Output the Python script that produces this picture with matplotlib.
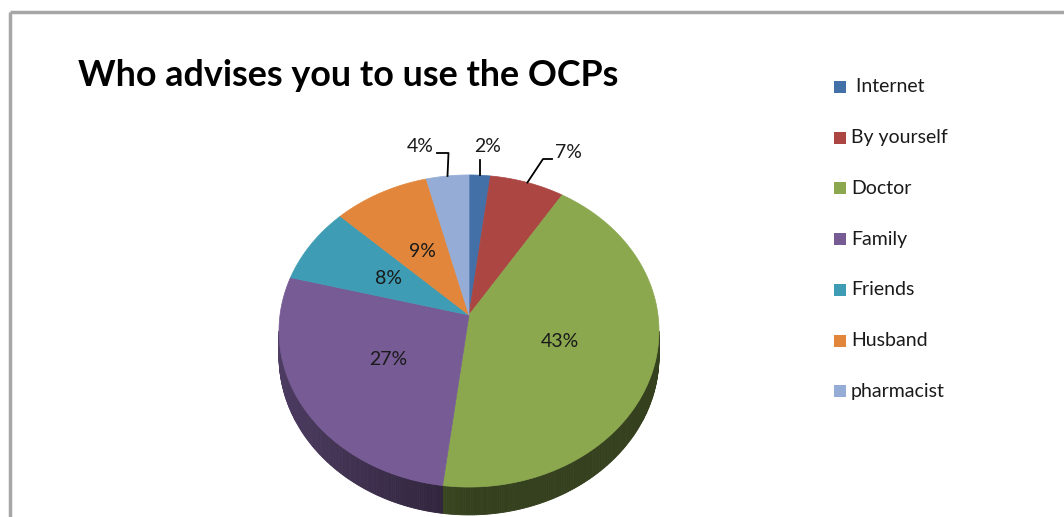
import numpy as np
import matplotlib
matplotlib.use("Agg")
import matplotlib.pyplot as plt
from matplotlib.patches import Polygon, Rectangle
from matplotlib.colors import to_rgb

plt.rcParams['font.family'] = ['Lato', 'DejaVu Sans']

# data
categories = [" Internet", "By yourself", "Doctor", "Family", "Friends", "Husband", "pharmacist"]
values = [2, 7, 43, 27, 8, 9, 4]
colors = ["#4470a8", "#ab4643", "#8ba84f", "#765b95", "#3e9db4", "#e2863b", "#95acd6"]
title = "Who advises you to use the OCPs"

W, H = 1064, 517
fig = plt.figure(figsize=(W / 100, H / 100), dpi=100)
ax = fig.add_axes([0, 0, 1, 1])
ax.set_xlim(0, W)
ax.set_ylim(H, 0)
ax.axis("off")

# chart frame
ax.plot([10, W], [12, 12], color="#a6a6a6", lw=2.5, solid_capstyle="butt")
ax.plot([10, 10], [12, H], color="#a6a6a6", lw=2.5, solid_capstyle="butt")

# perspective pie geometry
CX, CY = 469, 315
A, B, K = 189, 154.4, 0.1026
DEPTH = 25


def proj(theta, r=1.0, drop=0.0):
    u = r * np.sin(theta)
    v = r * np.cos(theta)
    w = 1 + K * v
    return CX + A * u / w, CY - B * v / w + drop / w


fracs = np.array(values, dtype=float) / sum(values)
edges = np.concatenate([[0], np.cumsum(fracs)]) * 2 * np.pi

# visible side wall between the two silhouette points
t_right = np.arccos(-K)
t_left = 2 * np.pi - t_right

for i, c in enumerate(colors):
    a0 = max(edges[i], t_right)
    a1 = min(edges[i + 1], t_left)
    if a1 <= a0:
        continue
    ts = np.linspace(a0, a1, max(int((a1 - a0) / 0.01), 2))
    base = np.array(to_rgb(c))
    for t0, t1 in zip(ts[:-1], ts[1:]):
        tm = 0.5 * (t0 + t1)
        f = 0.38 + 0.28 * max(0.0, -np.sin(tm))
        x0, y0 = proj(t0)
        x1, y1 = proj(t1)
        x2, y2 = proj(t1, drop=DEPTH)
        x3, y3 = proj(t0, drop=DEPTH)
        ax.add_patch(Polygon([(x0, y0), (x1, y1), (x2, y2), (x3, y3)],
                             closed=True, fc=base * f, ec=base * f, lw=0.6))

# top faces
for i, c in enumerate(colors):
    ts = np.linspace(edges[i], edges[i + 1], 120)
    xs, ys = proj(ts)
    pts = [(CX, CY)] + list(zip(xs, ys))
    ax.add_patch(Polygon(pts, closed=True, fc=c, ec=c, lw=0.5))

# percentage labels
label_font = dict(fontsize=14, color="#1a1a1a", ha="center", va="center")
mids = 0.5 * (edges[:-1] + edges[1:])
outside = {0: (488, 146), 1: (568, 152), 6: (420, 146)}
for i, v in enumerate(values):
    txt = f"{v}%"
    if i in outside:
        tx, ty = outside[i]
        ax.text(tx, ty, txt, **label_font)
        ex, ey = proj(mids[i], r=1.0)
        if i == 0:
            elbow = [(ex, 160)]
        elif i == 1:
            elbow = [(552, 159), (543, 159)]
        else:
            elbow = [(437, 153), (ex + 1, 153)]
        px = [p[0] for p in elbow] + [ex]
        py = [p[1] for p in elbow] + [ey]
        ax.plot(px, py, color="black", lw=1.3)
    else:
        lx, ly = proj(mids[i], r=0.5)
        ax.text(lx, ly, txt, **label_font)

# title
ax.text(78, 76, title, fontsize=25.8, fontweight="bold", color="black",
        ha="left", va="center")

# legend
for i, (name, c) in enumerate(zip(categories, colors)):
    y = 87 + i * 50.7
    ax.add_patch(Rectangle((834, y - 6), 12, 12, fc=c, ec="none"))
    ax.text(851, y, name, fontsize=14, color="#1a1a1a", ha="left", va="center")

fig.savefig("out.png", dpi=100)
